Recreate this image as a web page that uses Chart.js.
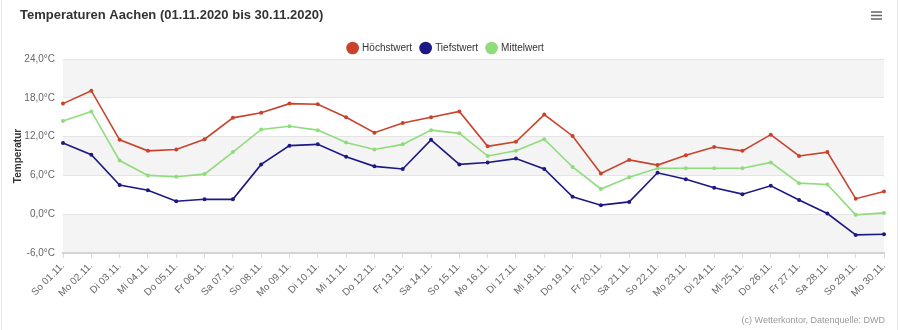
<!DOCTYPE html>
<html>
<head>
<meta charset="utf-8">
<script src="https://cdn.jsdelivr.net/npm/chart.js@4/dist/chart.umd.min.js"></script>
<style>
  html, body { margin: 0; padding: 0; background: #fff; }
  #wrap { width: 901px; height: 330px; position: relative; }
</style>
</head>
<body>
<div id="wrap"><canvas id="chart" width="901" height="330"></canvas></div>
<script>
const chartTitle = "Temperaturen Aachen (01.11.2020 bis 30.11.2020)";
const credits = "(c) Wetterkontor, Datenquelle: DWD";

const days = ["So 01.11.", "Mo 02.11.", "Di 03.11.", "Mi 04.11.", "Do 05.11.", "Fr 06.11.",
    "Sa 07.11.", "So 08.11.", "Mo 09.11.", "Di 10.11.", "Mi 11.11.", "Do 12.11.", "Fr 13.11.",
    "Sa 14.11.", "So 15.11.", "Mo 16.11.", "Di 17.11.", "Mi 18.11.", "Do 19.11.", "Fr 20.11.",
    "Sa 21.11.", "So 22.11.", "Mo 23.11.", "Di 24.11.", "Mi 25.11.", "Do 26.11.", "Fr 27.11.",
    "Sa 28.11.", "So 29.11.", "Mo 30.11."];

const highs = [17.1, 19.1, 11.5, 9.8, 10.0, 11.6, 14.9, 15.7, 17.1, 17.0, 15.0, 12.6, 14.1, 15.0, 15.9,
    10.5, 11.2, 15.4, 12.1, 6.3, 8.4, 7.6, 9.1, 10.4, 9.8, 12.3, 9.0, 9.6, 2.4, 3.5];
const lows = [11.0, 9.2, 4.5, 3.7, 2.0, 2.3, 2.3, 7.7, 10.6, 10.8, 8.9, 7.4, 7.0, 11.5, 7.7,
    8.0, 8.6, 7.0, 2.7, 1.4, 1.9, 6.4, 5.4, 4.1, 3.1, 4.4, 2.2, 0.1, -3.2, -3.1];
const means = [14.4, 15.9, 8.3, 6.0, 5.8, 6.2, 9.6, 13.1, 13.6, 13.0, 11.1, 10.0, 10.8, 13.0, 12.5,
    9.0, 9.8, 11.6, 7.3, 3.9, 5.7, 7.1, 7.1, 7.1, 7.1, 8.0, 4.8, 4.6, -0.1, 0.2];

const yMin = -6;
const yMax = 24;
const yStep = 6;
const bands = [[18, 24], [6, 12], [-6, 0]];

const redColor = "#c9432b";
const blueColor = "#1c1985";
const greenColor = "#8fdc7c";
const bandColor = "#f4f4f4";
const gridColor = "#e4e4e4";
const font = "'Liberation Sans', Arial, sans-serif";

// legend needs wide gaps between items but a short box
const legendFitPlugin = {
    id: "legendFit",
    afterInit(chart) {
        const fit = chart.legend.fit;
        chart.legend.fit = function () {
            fit.call(this);
            this.height -= 4;
        };
    }
};

const decorPlugin = {
    id: "decor",
    beforeDraw(chart) {
        const ctx = chart.ctx;
        const area = chart.chartArea;
        const y = chart.scales.y;
        ctx.save();
        ctx.fillStyle = bandColor;
        bands.forEach(([from, to]) => {
            const top = y.getPixelForValue(to);
            const bottom = y.getPixelForValue(from);
            ctx.fillRect(area.left, top, area.right - area.left, bottom - top);
        });
        ctx.restore();
    },
    afterDraw(chart) {
        const ctx = chart.ctx;
        ctx.save();
        // outer frame
        ctx.strokeStyle = "#e8e8e8";
        ctx.lineWidth = 1;
        ctx.beginPath();
        ctx.moveTo(1.5, 0);
        ctx.lineTo(1.5, 330);
        ctx.moveTo(897.5, 0);
        ctx.lineTo(897.5, 330);
        ctx.stroke();
        // title
        ctx.fillStyle = "#333";
        ctx.font = "bold 13px " + font;
        ctx.textBaseline = "middle";
        ctx.textAlign = "left";
        ctx.fillText(chartTitle, 20, 15);
        // menu icon
        ctx.strokeStyle = "#666";
        ctx.lineWidth = 1.5;
        ctx.beginPath();
        [12, 15.5, 19].forEach(v => {
            ctx.moveTo(871, v);
            ctx.lineTo(882, v);
        });
        ctx.stroke();
        // credits
        ctx.fillStyle = "#999";
        ctx.font = "9px " + font;
        ctx.textAlign = "right";
        ctx.fillText(credits, 885, 321);
        ctx.restore();
    }
};

function series(label, data, color) {
    return {
        label: label,
        data: data,
        borderColor: color,
        backgroundColor: color,
        borderWidth: 1.6,
        pointRadius: 2,
        pointBorderWidth: 0,
        pointBackgroundColor: color,
        tension: 0
    };
}

new Chart(document.getElementById("chart"), {
    type: "line",
    data: {
        labels: days,
        datasets: [
            series("Höchstwert", highs, redColor),
            series("Tiefstwert", lows, blueColor),
            series("Mittelwert", means, greenColor)
        ]
    },
    options: {
        responsive: false,
        devicePixelRatio: 1,
        animation: false,
        layout: {
            padding: { top: 34, left: 8, right: 17, bottom: 0 }
        },
        plugins: {
            legend: {
                display: true,
                position: "top",
                labels: {
                    usePointStyle: true,
                    pointStyle: "circle",
                    boxWidth: 9,
                    boxHeight: 9,
                    padding: 9,
                    color: "#333",
                    font: { family: font, size: 10 }
                }
            },
            title: { display: false },
            tooltip: { enabled: false }
        },
        scales: {
            x: {
                offset: false,
                afterFit(scale) { scale.height = 77; },
                grid: {
                    display: true,
                    drawOnChartArea: false,
                    color: "#dcdcdc",
                    tickLength: 5
                },
                border: { color: "#d4d4d4", width: 2 },
                ticks: {
                    color: "#666",
                    autoSkip: false,
                    maxRotation: 45,
                    minRotation: 45,
                    padding: 2,
                    font: { family: font, size: 10 }
                }
            },
            y: {
                min: yMin,
                max: yMax,
                afterFit(scale) { scale.width = 55; },
                grid: { color: gridColor, drawTicks: false },
                border: { display: false },
                ticks: {
                    stepSize: yStep,
                    color: "#666",
                    padding: 8,
                    font: { family: font, size: 10 },
                    callback: v => v.toFixed(1).replace(".", ",") + "°C"
                },
                title: {
                    display: true,
                    text: "Temperatur",
                    color: "#333",
                    font: { family: font, size: 10, weight: "bold" },
                    padding: { top: 4, bottom: 0 }
                }
            }
        }
    },
    plugins: [legendFitPlugin, decorPlugin]
});
</script>
</body>
</html>
